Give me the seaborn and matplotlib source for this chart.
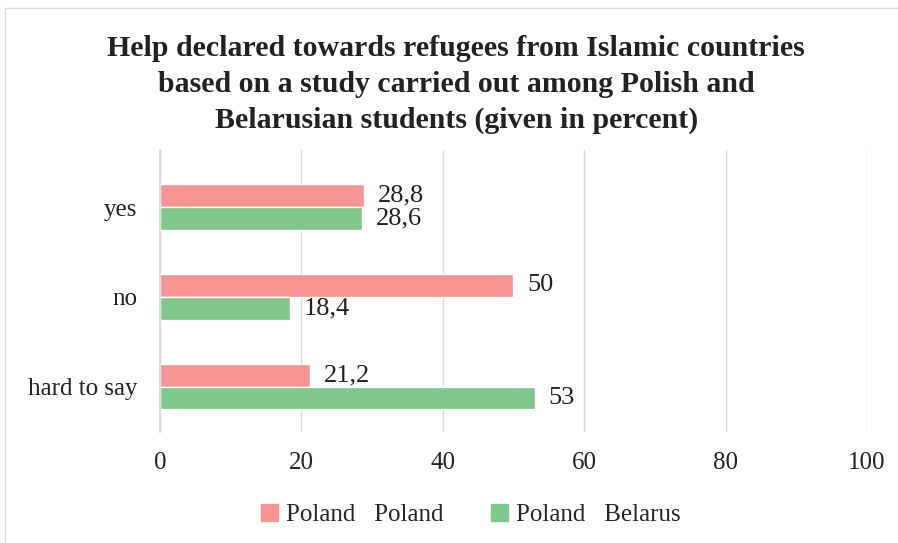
import matplotlib.pyplot as plt
import matplotlib.patches as mpatches
import seaborn as sns
import pandas as pd

answers = ['yes', 'no', 'hard to say']
series = ['Poland   Poland', 'Poland   Belarus']
poland_vals = [28.8, 50, 21.2]
belarus_vals = [28.6, 18.4, 53]
colors = ['#F69494', '#7FC78A']

df = pd.DataFrame({
    'answer': answers * 2,
    'group': [series[0]] * 3 + [series[1]] * 3,
    'value': poland_vals + belarus_vals,
})

sns.set_theme(style='white')
plt.rcParams['font.family'] = ['Liberation Serif', 'DejaVu Serif']

fig = plt.figure(figsize=(8.98, 5.43), dpi=100)
ax = fig.add_axes([0.178, 0.204, 0.7875, 0.52])

sns.barplot(data=df, y='answer', x='value', hue='group', order=answers,
            hue_order=series, palette=colors, width=0.51, orient='h',
            saturation=1, ax=ax, legend=True)

for cont in ax.containers:
    ax.bar_label(cont, labels=[f'{v:g}'.replace('.', ',') for v in cont.datavalues],
                 padding=10, fontsize=19, color='#222222')

ax.set_xlim(0, 100)
ax.set_ylim(2.51, -0.64)
ax.set_xticks([0, 20, 40, 60, 80, 100])
ax.xaxis.grid(True, color='#d9d9d9', linewidth=1)
ax.set_axisbelow(True)
ax.set_xlabel('')
ax.set_ylabel('')
ax.tick_params(axis='both', length=0, labelsize=18, colors='#222222')
ax.tick_params(axis='x', pad=14)
ax.tick_params(axis='y', pad=16)
for side in ['top', 'right', 'bottom']:
    ax.spines[side].set_visible(False)
ax.spines['left'].set_color('#d9d9d9')

handles = [mpatches.Patch(color=c) for c in colors]
ax.legend(handles, series, loc='center', bbox_to_anchor=(0.524, 0.052),
          bbox_transform=fig.transFigure, ncol=2, frameon=False, fontsize=18,
          handlelength=0.7, handleheight=0.7, handletextpad=0.3, columnspacing=1.9)

fig.text(0.508, 0.845,
         'Help declared towards refugees from Islamic countries\n'
         'based on a study carried out among Polish and\n'
         'Belarusian students (given in percent)',
         ha='center', va='center', fontsize=21.5, fontweight='bold',
         linespacing=1.42, color='#222222')

fig.patches.append(mpatches.Rectangle((5 / 898, -0.1), 1.2, 1 - 8 / 543 + 0.1,
                                      transform=fig.transFigure, fill=False,
                                      edgecolor='#d9d9d9', linewidth=1))

fig.savefig('out.png', dpi=100)
